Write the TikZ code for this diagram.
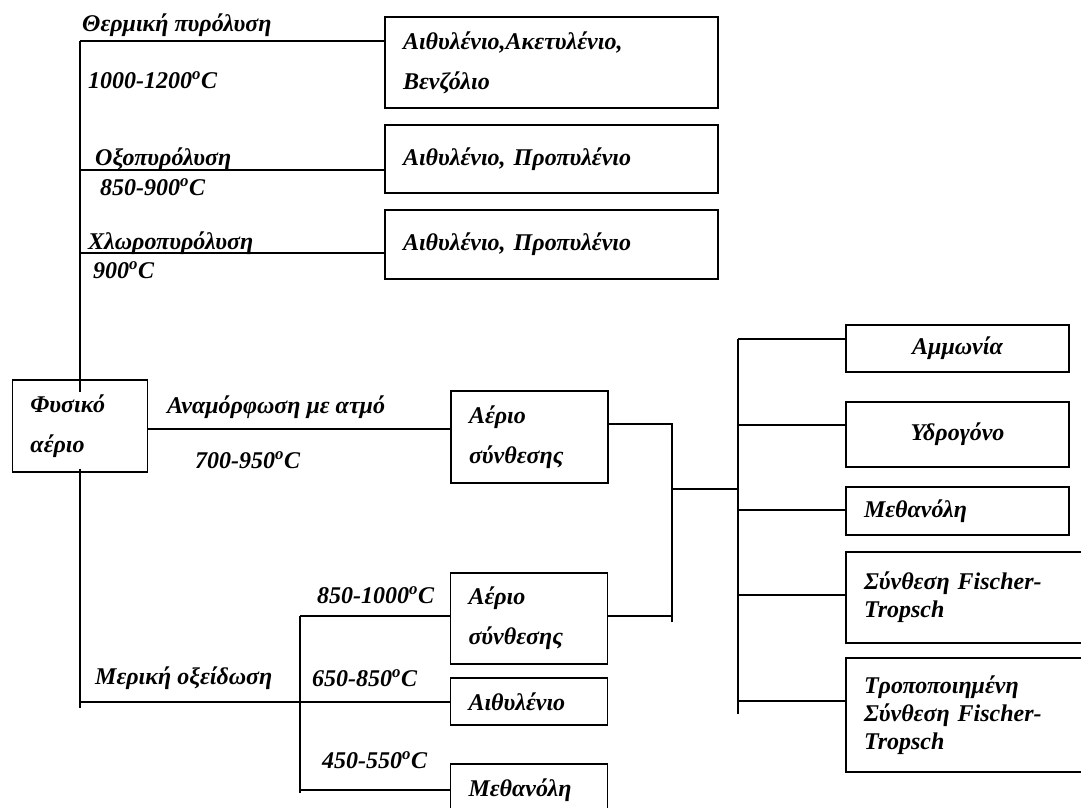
\documentclass[tikz,border=0pt]{standalone}
\usepackage{fontspec}
\setmainfont{Liberation Serif}
\usepackage{tikz}
\usetikzlibrary{positioning, calc}
\newcommand{\diagfont}{\fontsize{24}{28}\selectfont\bfseries\itshape}
\newcommand{\dg}{\textsuperscript{o}C}
\tikzstyle{product} = [rectangle, draw=black, line width=1.4pt, inner xsep=18pt, inner ysep=0pt, align=left, font=\diagfont]
\tikzstyle{cond} = [anchor=west, inner sep=0pt, font=\diagfont]
\tikzstyle{wire} = [line width=1.4pt]

\begin{document}
\begin{tikzpicture}[x=1pt, y=-1pt]
\useasboundingbox (0,0) rectangle (1081,807);
\clip (0,0) rectangle (1081,807);

% ===== FEEDSTOCK =====
\node (feed) [product, text width=99pt, minimum height=92pt] at (80,426) {Φυσικό\\[12pt]αέριο};

% ===== PYROLYSIS PRODUCTS (TOP) =====
\node (pyro1) [product, text width=297pt, minimum height=91pt] at (551.5,62.5) {Αιθυλένιο,Ακετυλένιο,\\[12pt]Βενζόλιο};
\node (pyro2) [product, text width=297pt, minimum height=68pt] at (551.5,159) {Αιθυλένιο, Προπυλένιο\\[20pt]};
\node (pyro3) [product, text width=297pt, minimum height=69pt] at (551.5,244.5) {Αιθυλένιο, Προπυλένιο\\[20pt]};

% ===== SYNTHESIS GAS AND OXIDATION PRODUCTS =====
\node (syn1) [product, text width=121pt, minimum height=92pt] at (529.5,437) {Αέριο\\[12pt]σύνθεσης};
\node (syn2) [product, text width=121pt, minimum height=91pt] at (529,618.5) {Αέριο\\[12pt]σύνθεσης};
\node (eth) [product, text width=121pt, minimum height=47pt] at (529,701.5) {Αιθυλένιο};
\node (meth) [product, text width=121pt, minimum height=52pt] at (529,790) {Μεθανόλη};

% ===== SYNGAS PRODUCTS (RIGHT) =====
\node (amm) [product, text width=187pt, minimum height=47pt, align=center] at (957.5,348.5) {Αμμωνία};
\node (hyd) [product, text width=187pt, minimum height=65pt, align=center] at (957.5,434.5) {Υδρογόνο\\[8pt]};
\node (meoh) [product, text width=187pt, minimum height=48pt] at (957.5,511) {Μεθανόλη};
\node (ft) [product, text width=208pt, minimum height=91pt] at (968,597.5) {Σύνθεση Fischer-\\Tropsch\\[4pt]};
\node (mft) [product, text width=208pt, minimum height=114pt] at (968,715) {Τροποποιημένη\\Σύνθεση Fischer-\\Tropsch\\[2pt]};

% ===== PROCESS CONDITIONS =====
\node (t1) [cond] at (82,25) {Θερμική πυρόλυση};
\node (t1c) [cond] at (88,80) {1000-1200\dg};
\node (t2) [cond] at (95,159) {Οξοπυρόλυση};
\node (t2c) [cond] at (100,187) {850-900\dg};
\node (t3) [cond] at (88,243) {Χλωροπυρόλυση};
\node (t3c) [cond] at (93,270) {900\dg};
\node (st) [cond] at (167,407) {Αναμόρφωση με ατμό};
\node (stc) [cond] at (195,460) {700-950\dg};
\node (ox) [cond] at (95,678) {Μερική οξείδωση};
\node (ox1) [cond] at (317,595) {850-1000\dg};
\node (ox2) [cond] at (312,678) {650-850\dg};
\node (ox3) [cond] at (322,760) {450-550\dg};

% ===== JUNCTIONS =====
\coordinate (ttop) at (80,41);
\coordinate (j2) at (80,170);
\coordinate (j3) at (80,253);
\coordinate (jox) at (80,702);
\coordinate (forktop) at (300,616);
\coordinate (forkbot) at (300,790);
\coordinate (mtop) at (672,424);
\coordinate (mbot) at (672,616);
\coordinate (mmid) at (672,489);
\coordinate (hub) at (738,489);

% ===== CONNECTORS =====
% pyrolysis branch
\draw [wire] (ttop) -- ([yshift=-13pt]feed.north);
\draw [wire] (ttop) -- (ttop -| pyro1.west);
\draw [wire] (j2) -- (j2 -| pyro2.west);
\draw [wire] (j3) -- (j3 -| pyro3.west);

% steam reforming
\draw [wire] ([yshift=-3pt]feed.east) -- ([yshift=-3pt]feed.east -| syn1.west);

% partial oxidation
\draw [wire] ([yshift=4pt]feed.south) -- ([yshift=-6pt]jox);
\draw [wire] (jox) -- (jox -| eth.west);
\draw [wire] (forktop) -- ([yshift=-3pt]forkbot);
\draw [wire] (forktop) -- (forktop -| syn2.west);
\draw [wire] (forkbot) -- (forkbot -| meth.west);

% synthesis gas to products
\draw [wire] (mtop -| syn1.east) -- (mtop) -- ([yshift=-6pt]mbot);
\draw [wire] (mbot -| syn2.east) -- (mbot);
\draw [wire] (mmid) -- (hub);
\draw [wire] (738,339) -- (738,714);
\foreach \yy/\nm in {339/amm, 425/hyd, 510/meoh, 595/ft, 701/mft}
  \draw [wire] (738,\yy) -- (738,\yy -| \nm.west);

\end{tikzpicture}
\end{document}
